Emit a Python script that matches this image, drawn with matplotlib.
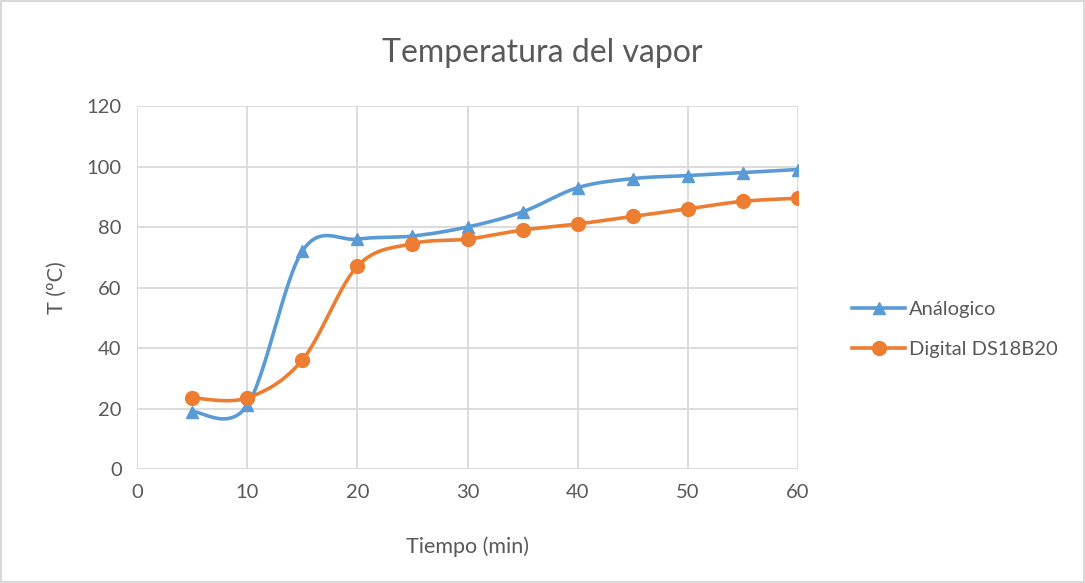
import matplotlib

matplotlib.use("Agg")
import matplotlib.pyplot as plt  # noqa: E402
import numpy as np  # noqa: E402

# Excel-ish palette
BLUE = "#5b9bd5"
ORANGE = "#ed7d31"
INK = "#595959"
GRID = "#d9d9d9"

tiempo = [5, 10, 15, 20, 25, 30, 35, 40, 45, 50, 55, 60]
analogico = [19, 21, 72, 76, 77, 80, 85, 93, 96, 97, 98, 99]
digital = [23.5, 23.5, 36, 67, 74.5, 76, 79, 81, 83.5, 86, 88.5, 89.5]

plt.rcParams["font.family"] = ["Lato", "DejaVu Sans"]


def smooth(x, y, n=30):
    """Excel-style smoothed line (Catmull-Rom as cubic Bezier segments)."""
    p = np.column_stack([x, y]).astype(float)
    p = np.vstack([p[0], p, p[-1]])
    out = []
    t = np.linspace(0, 1, n)[:, None]
    for i in range(1, len(p) - 2):
        p0, p1, p2, p3 = p[i - 1], p[i], p[i + 1], p[i + 2]
        b1 = p1 + (p2 - p0) / 6
        b2 = p2 - (p3 - p1) / 6
        seg = ((1 - t) ** 3) * p1 + 3 * ((1 - t) ** 2) * t * b1 \
            + 3 * (1 - t) * t ** 2 * b2 + t ** 3 * p2
        out.append(seg if i == 1 else seg[1:])
    seg = np.vstack(out)
    return seg[:, 0], seg[:, 1]


fig = plt.figure(figsize=(10.85, 5.83), dpi=100)
fig.patch.set_edgecolor(GRID)
fig.patch.set_linewidth(1.5)
ax = fig.add_axes((137 / 1085, 1 - 469 / 583, 661 / 1085, 363 / 583))

series = [
    (analogico, BLUE, "^", 8, "Análogico"),
    (digital, ORANGE, "o", 10, "Digital DS18B20"),
]
for ys, c, mk, ms, lab in series:
    sx, sy = smooth(tiempo, ys)
    ax.plot(sx, sy, color=c, lw=2.6, solid_capstyle="round", zorder=3)
    ax.plot(tiempo, ys, ls="none", marker=mk, ms=ms, color=c, zorder=4)
    ax.plot([], [], color=c, lw=2.6, marker=mk, ms=ms, label=lab)

ax.set_xlim(0, 60)
ax.set_ylim(0, 120)
ax.set_xticks(range(0, 61, 10))
ax.set_yticks(range(0, 121, 20))
ax.grid(True, color=GRID, lw=1.3)
ax.set_axisbelow(True)
for s in ax.spines.values():
    s.set_visible(False)
ax.tick_params(length=0, labelsize=14.5, colors=INK, pad=11)

ax.set_xlabel("Tiempo (min)", fontsize=15.5, color=INK, labelpad=25)
ax.set_ylabel("T (ºC)", fontsize=15.5, color=INK, labelpad=14)
fig.text(0.5, 1 - 53 / 583, "Temperatura del vapor", ha="center",
         va="center", fontsize=23, color=INK)

ax.legend(loc="center left", bbox_to_anchor=(1.055, 0.385), frameon=False,
          fontsize=14.5, labelcolor=INK, handlelength=2.6, handletextpad=0.2,
          labelspacing=1.15)

fig.savefig("out.png", dpi=100)
